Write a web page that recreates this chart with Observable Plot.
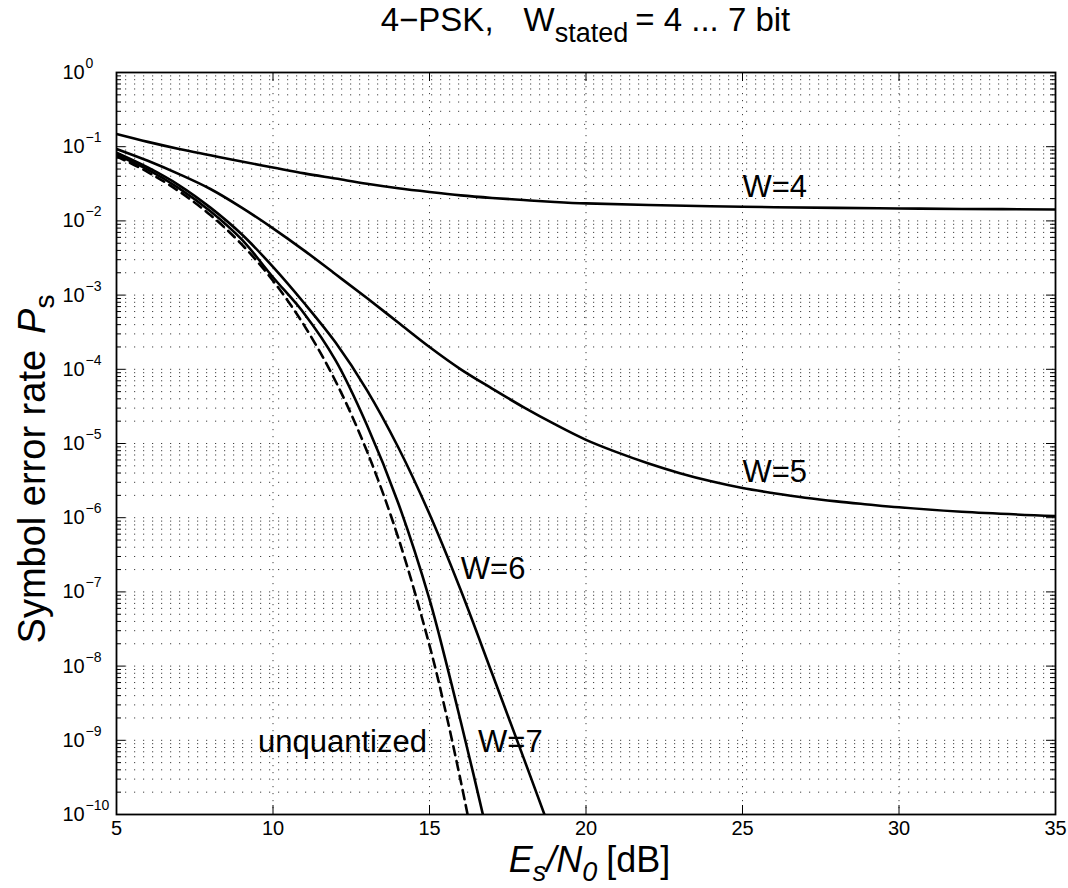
<!DOCTYPE html>
<html>
<head>
<meta charset="utf-8">
<script src="https://cdn.jsdelivr.net/npm/d3@7"></script>
<script src="https://cdn.jsdelivr.net/npm/@observablehq/plot@0.6"></script>
<style>
  html, body { margin: 0; padding: 0; background: #fff; }
  #chart { width: 1068px; height: 888px; }
</style>
</head>
<body>
<div id="chart"></div>
<script>
// ---- Data ----
const esW4 = [5, 6, 7, 8, 9, 10, 11, 12, 13, 14, 15, 16, 17, 18, 19, 20, 22, 25, 28, 30, 32, 35];
const psW4 = [0.148, 0.1161, 0.0933, 0.0767, 0.0631, 0.0525, 0.0437, 0.0372, 0.0316, 0.0275, 0.0245, 0.0221, 0.0204, 0.0191, 0.0180, 0.0172, 0.0164, 0.0155, 0.0150, 0.0147, 0.0145, 0.01426];

const esW5 = [5, 6, 7, 8, 9, 10, 11, 12, 13, 14, 15, 16, 17, 18, 19, 20, 21, 22, 23, 24, 25, 26, 27, 28, 29, 30, 32, 35];
const psW5 = [0.0933, 0.0646, 0.0427, 0.0269, 0.0151, 7.94e-3, 3.98e-3, 1.91e-3, 9.12e-4, 4.27e-4, 2.0e-4, 1.0e-4, 5.5e-5, 3.09e-5, 1.82e-5, 1.12e-5, 7.59e-6, 5.37e-6, 3.98e-6, 3.09e-6, 2.51e-6, 2.14e-6, 1.86e-6, 1.66e-6, 1.51e-6, 1.38e-6, 1.20e-6, 1.05e-6];

const esW6 = [5, 6, 7, 8, 9, 10, 11, 12, 13, 14, 15, 16, 17, 18, 18.7];
const psW6 = [0.083, 0.0525, 0.0302, 0.0151, 6.61e-3, 2.40e-3, 7.76e-4, 2.29e-4, 5.25e-5, 8.91e-6, 1.12e-6, 1.05e-7, 7.94e-9, 5.89e-10, 9.3e-11];

const esW7 = [5, 6, 7, 8, 9, 10, 11, 12, 13, 14, 15, 15.5, 16, 16.4, 16.75];
const psW7 = [0.0776, 0.049, 0.0275, 0.0135, 5.62e-3, 1.74e-3, 5.62e-4, 1.32e-4, 1.78e-5, 1.58e-6, 7.94e-8, 1.26e-8, 1.78e-9, 3.55e-10, 8.3e-11];

const esUnq = [5, 6, 7, 8, 9, 10, 11, 12, 13, 14, 15, 15.5, 16, 16.25];
const psUnq = [0.074, 0.0455, 0.025, 0.012, 4.83e-3, 1.56e-3, 3.88e-4, 6.9e-5, 7.9e-6, 5.4e-7, 1.9e-8, 2.6e-9, 2.8e-10, 8.5e-11];

const labelText = ["W=4", "W=5", "W=6", "W=7", "unquantized"];
const labelEs   = [25.0, 25.0, 16.0, 16.55, 9.52];
const labelPs   = [2.85e-2, 4.07e-6, 2.04e-7, 9.5e-10, 9.5e-10];

const xTicks = [5, 10, 15, 20, 25, 30, 35];
const yDecades = [0, -1, -2, -3, -4, -5, -6, -7, -8, -9, -10];
const yTickLabels = ["0", "\u22121", "\u22122", "\u22123", "\u22124", "\u22125", "\u22126", "\u22127", "\u22128", "\u22129", "\u221210"];

// ---- Derived tables ----
const solid = [
  ...esW4.map((e, i) => ({series: "W=4", es: e, ps: psW4[i]})),
  ...esW5.map((e, i) => ({series: "W=5", es: e, ps: psW5[i]})),
  ...esW6.map((e, i) => ({series: "W=6", es: e, ps: psW6[i]})),
  ...esW7.map((e, i) => ({series: "W=7", es: e, ps: psW7[i]}))
];
const dashed = esUnq.map((e, i) => ({series: "unquantized", es: e, ps: psUnq[i]}));
const labels = labelText.map((t, i) => ({text: t, es: labelEs[i], ps: labelPs[i]}));

const yMajor = yDecades.map(k => Math.pow(10, k));
const yMinor = [];
for (const k of yDecades.slice(1)) for (let m = 2; m <= 9; m++) yMinor.push(m * Math.pow(10, k));
const yLabelData = yDecades.map((k, i) => ({v: Math.pow(10, k), exp: yTickLabels[i]}));
const xInner = xTicks.slice(1, -1);

const font = "'Liberation Sans', Arial, Helvetica, sans-serif";
const gridStyle = {stroke: "#000", strokeOpacity: 0.75, strokeWidth: 1, strokeDasharray: "1.2,7.8"};
const tickLen = 9, minorLen = 5;

const chart = Plot.plot({
  width: 1068,
  height: 888,
  marginLeft: 116,
  marginRight: 13,
  marginTop: 72,
  marginBottom: 74,
  style: {fontFamily: font, background: "#fff", color: "#000"},
  x: {domain: [5, 35], axis: null},
  y: {type: "log", domain: [1e-10, 1], axis: null},
  marks: [
    // dotted grid
    Plot.ruleY([...yMajor.slice(1, -1), ...yMinor], {y: d => d, ...gridStyle}),
    Plot.ruleX(xInner, {x: d => d, ...gridStyle, strokeDasharray: "1.2,5.8"}),
    // curves
    Plot.line(solid, {x: "es", y: "ps", z: "series", stroke: "#000", strokeWidth: 2.6, curve: "catmull-rom", clip: true}),
    Plot.line(dashed, {x: "es", y: "ps", stroke: "#000", strokeWidth: 2.6, strokeDasharray: "9,6", curve: "catmull-rom", clip: true}),
    // frame
    Plot.frame({stroke: "#000", strokeWidth: 1.8}),
    // inward ticks on x (bottom and top)
    Plot.ruleX(xInner, {x: d => d, y1: 1e-10, y2: 1e-10, insetTop: -tickLen, stroke: "#000", strokeWidth: 1}),
    Plot.ruleX(xInner, {x: d => d, y1: 1, y2: 1, insetBottom: -tickLen, stroke: "#000", strokeWidth: 1}),
    // inward ticks on y (left and right), major and minor
    Plot.ruleY(yMajor, {y: d => d, x1: 5, x2: 5, insetRight: -tickLen, stroke: "#000", strokeWidth: 1}),
    Plot.ruleY(yMajor, {y: d => d, x1: 35, x2: 35, insetLeft: -tickLen, stroke: "#000", strokeWidth: 1}),
    Plot.ruleY(yMinor, {y: d => d, x1: 5, x2: 5, insetRight: -minorLen, stroke: "#000", strokeWidth: 1}),
    Plot.ruleY(yMinor, {y: d => d, x1: 35, x2: 35, insetLeft: -minorLen, stroke: "#000", strokeWidth: 1}),
    // x tick labels
    Plot.text(xTicks, {x: d => d, text: d => String(d), frameAnchor: "bottom", dy: 20, fontSize: 20, fill: "#000"}),
    // y tick labels: base and exponent
    Plot.text(yLabelData, {y: "v", text: () => "10", frameAnchor: "left", dx: -54, textAnchor: "start", fontSize: 20, fill: "#000"}),
    Plot.text(yLabelData, {y: "v", text: "exp", frameAnchor: "left", dx: -31, dy: -9, textAnchor: "start", fontSize: 14, fill: "#000"}),
    // curve labels
    Plot.text(labels, {x: "es", y: "ps", text: "text", textAnchor: "start", fontSize: 31, fill: "#000"})
  ]
});

document.getElementById("chart").appendChild(chart);

// ---- Title and axis labels with sub/superscripts ----
const svg = d3.select(chart);
const plotCenterX = (116 + (1068 - 13)) / 2;
const plotCenterY = (72 + (888 - 74)) / 2;

const title = svg.append("text")
  .attr("x", plotCenterX).attr("y", 31)
  .attr("text-anchor", "middle")
  .attr("font-family", font).attr("font-size", 33).attr("fill", "#000");
title.append("tspan").text("4\u2212PSK,");
title.append("tspan").attr("dx", 30).text("W");
title.append("tspan").attr("dy", 11).attr("font-size", 27).text("stated");
title.append("tspan").attr("dy", -11).attr("dx", 7).text("= 4 ... 7 bit");

const xl = svg.append("text")
  .attr("x", plotCenterX + 4).attr("y", 872)
  .attr("text-anchor", "middle")
  .attr("font-family", font).attr("font-size", 36).attr("fill", "#000");
xl.append("tspan").attr("font-style", "italic").text("E");
xl.append("tspan").attr("font-style", "italic").attr("dy", 9).attr("font-size", 27).text("s");
xl.append("tspan").attr("font-style", "italic").attr("dy", -9).text("/N");
xl.append("tspan").attr("font-style", "italic").attr("dy", 9).attr("font-size", 27).text("0");
xl.append("tspan").attr("dy", -9).attr("dx", 9).text("[dB]");

const yl = svg.append("text")
  .attr("transform", `translate(45,${plotCenterY + 26}) rotate(-90)`)
  .attr("text-anchor", "middle")
  .attr("font-family", font).attr("font-size", 38).attr("fill", "#000");
yl.append("tspan").text("Symbol error rate");
yl.append("tspan").attr("dx", 16).attr("font-style", "italic").text("P");
yl.append("tspan").attr("dy", 9).attr("font-size", 28).text("s");
</script>
</body>
</html>
